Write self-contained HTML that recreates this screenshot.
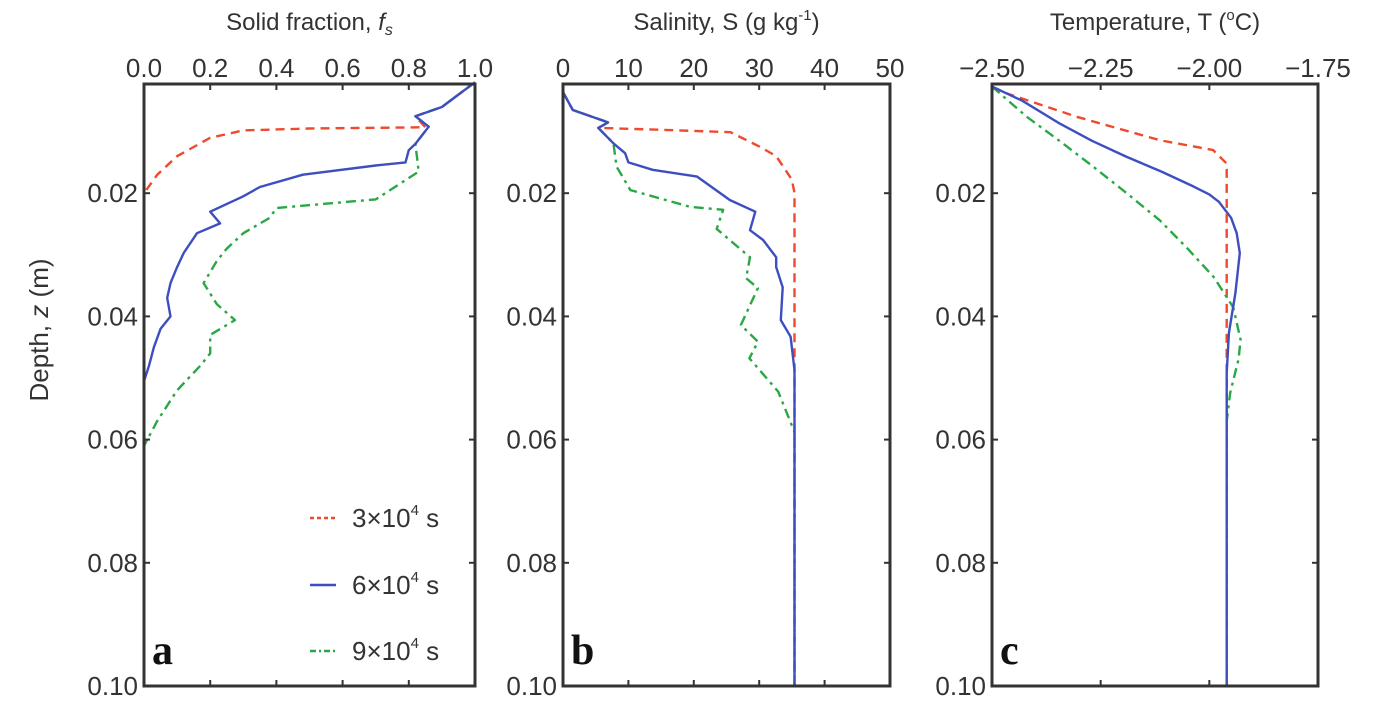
<!DOCTYPE html>
<html><head><meta charset="utf-8"><style>
body{margin:0;background:#fff;}
svg text{font-family:"Liberation Sans","DejaVu Sans",sans-serif;fill:#333;}
</style></head><body>
<svg id="chart" width="1400" height="721" viewBox="0 0 1400 721" xmlns="http://www.w3.org/2000/svg"></svg>
<script>
// Depth tick values
const depthTicks=[0.02,0.04,0.06,0.08,0.10];
const depthTickLabels=["0.02","0.04","0.06","0.08","0.10"];
// Panel a: solid fraction
const fsTicks=[0,0.2,0.4,0.6,0.8,1.0];
const fsTickLabels=["0.0","0.2","0.4","0.6","0.8","1.0"];
const fsRedDepth=[0.002,0.004,0.006,0.0075,0.0093,0.0095,0.0098,0.011,0.014,0.017,0.020,0.1];
const fsRedVal=[1.0,0.95,0.9,0.82,0.85,0.5,0.3,0.2,0.1,0.04,0,0];
const fsBlueDepth=[0.002,0.004,0.006,0.0075,0.0092,0.012,0.013,0.015,0.0155,0.017,0.019,0.0205,0.023,0.0249,0.0265,0.0297,0.032,0.0346,0.037,0.040,0.042,0.045,0.048,0.0505,0.1];
const fsBlueVal=[1.0,0.95,0.9,0.82,0.86,0.82,0.8,0.79,0.7,0.48,0.35,0.3,0.2,0.23,0.16,0.12,0.1,0.08,0.07,0.08,0.05,0.03,0.015,0,0];
const fsGreenDepth=[0.002,0.004,0.006,0.0075,0.0092,0.012,0.0165,0.021,0.0224,0.024,0.0265,0.029,0.031,0.0346,0.038,0.0406,0.043,0.046,0.048,0.052,0.057,0.061,0.1];
const fsGreenVal=[1.0,0.95,0.9,0.82,0.86,0.82,0.83,0.7,0.4,0.38,0.3,0.25,0.22,0.18,0.22,0.275,0.2,0.2,0.17,0.1,0.04,0,0];
// Panel b: salinity
const sTicks=[0,10,20,30,40,50];
const sTickLabels=["0","10","20","30","40","50"];
const sRedDepth=[0.0036,0.0065,0.0085,0.0094,0.0097,0.0101,0.0124,0.014,0.0178,0.020,0.1];
const sRedVal=[0,1.5,6.9,5.4,15,25.6,30,32.6,35,35.4,35.4];
const sBlueDepth=[0.0036,0.0065,0.0085,0.0094,0.0119,0.0135,0.015,0.0162,0.0173,0.0211,0.023,0.026,0.0276,0.0304,0.032,0.0353,0.0406,0.0433,0.0487,0.1];
const sBlueVal=[0,1.5,6.9,5.4,7.7,9.5,10,13.7,20.5,25.5,29.4,28.6,30.6,32.6,32.6,33.6,33.3,34.8,35.4,35.4];
const sGreenDepth=[0.0036,0.0065,0.0085,0.0094,0.0119,0.0157,0.0195,0.0222,0.0227,0.0258,0.0304,0.0338,0.0354,0.0414,0.0441,0.0468,0.0522,0.0588,0.1];
const sGreenVal=[0,1.5,6.9,5.4,7.7,8.2,10.3,19.4,24.5,23.5,28.6,28,29.8,27.2,29.8,28.5,32.9,35.4,35.4];
// Panel c: temperature
const tTicks=[-2.5,-2.25,-2.0,-1.75];
const tTickLabels=["\u22122.50","\u22122.25","\u22122.00","\u22121.75"];
const tRedDepth=[0.0027,0.0038,0.0076,0.0114,0.013,0.0152,0.047,0.1];
const tRedVal=[-2.5,-2.466,-2.305,-2.114,-1.991,-1.96,-1.96,-1.96];
const tBlueDepth=[0.0027,0.005,0.0087,0.0115,0.0141,0.0165,0.0189,0.0202,0.0214,0.024,0.0265,0.0297,0.0362,0.0427,0.0492,0.1];
const tBlueVal=[-2.5,-2.43,-2.344,-2.27,-2.19,-2.11,-2.037,-2.0,-1.978,-1.95,-1.937,-1.93,-1.94,-1.955,-1.96,-1.96];
const tGreenDepth=[0.0027,0.0076,0.0115,0.0157,0.02,0.0244,0.029,0.0336,0.0385,0.0438,0.047,0.0524,0.057,0.1];
const tGreenVal=[-2.5,-2.42,-2.345,-2.267,-2.19,-2.114,-2.05,-1.99,-1.945,-1.928,-1.933,-1.952,-1.96,-1.96];

const NS="http://www.w3.org/2000/svg";
const svg=document.getElementById('chart');
function mk(tag,attrs,parent){const e=document.createElementNS(NS,tag);for(const k in attrs)e.setAttribute(k,attrs[k]);(parent||svg).appendChild(e);return e;}
const TOP=84,BOT=686;
function yScale(d){return 70+6160*d;}
const RED='#ee4a2e',BLUE='#3d4fc0',GREEN='#2aa845';

function panel(key,x0,x1,dmin,dmax,ticks,labels,series,title,letter){
  const xs=v=>x0+(v-dmin)/(dmax-dmin)*(x1-x0);
  const g=mk('g',{});
  
  
  series.forEach(s=>{
    const pts=s.d.map((d,i)=>xs(s.v[i]).toFixed(1)+','+yScale(d).toFixed(1)).join(' ');
    const p=mk('polyline',{points:pts,fill:'none',stroke:s.c,'stroke-width':2.4,'stroke-linejoin':'round'},g);
    if(s.dash)p.setAttribute('stroke-dasharray',s.dash);
    
    
  });
  const f=mk('rect',{x:x0,y:TOP,width:x1-x0,height:BOT-TOP,fill:'none',stroke:'#333','stroke-width':3},g);
  
  
  ticks.forEach((t,i)=>{
    const x=xs(t);
    mk('line',{x1:x,x2:x,y1:TOP,y2:TOP+6,stroke:'#333','stroke-width':2},g);
    mk('line',{x1:x,x2:x,y1:BOT,y2:BOT-6,stroke:'#333','stroke-width':2},g);
    const tx=mk('text',{x:x,y:77,'text-anchor':'middle','font-size':26},g);
    tx.textContent=labels[i];
    
    
  });
  depthTicks.forEach((d,i)=>{
    const y=yScale(d);
    mk('line',{x1:x0,x2:x0+6,y1:y,y2:y,stroke:'#333','stroke-width':2},g);
    mk('line',{x1:x1,x2:x1-6,y1:y,y2:y,stroke:'#333','stroke-width':2},g);
    const tx=mk('text',{x:x0-6,y:y+9,'text-anchor':'end','font-size':26},g);
    tx.textContent=depthTickLabels[i];
    
    
  });
  const tt=mk('text',{x:(x0+x1)/2,y:30,'text-anchor':'middle','font-size':24},g);
  tt.innerHTML=title;
  
  
  const lt=mk('text',{x:x0+8,y:664,'font-size':42,'font-weight':'bold'},g);
  lt.textContent=letter;
  lt.style.fontFamily='"Liberation Serif",serif';
  lt.style.fill='#111';
  
  
}
panel('a',144,475,0,1,fsTicks,fsTickLabels,[
 {n:'3e4',d:fsRedDepth,v:fsRedVal,c:RED,dash:'9,6'},
 {n:'9e4',d:fsGreenDepth,v:fsGreenVal,c:GREEN,dash:'10,5,3,5'},
 {n:'6e4',d:fsBlueDepth,v:fsBlueVal,c:BLUE}],
 'Solid fraction, <tspan font-style="italic">f</tspan><tspan font-style="italic" font-size="16" dy="5">s</tspan>','a');
panel('b',563,890,0,50,sTicks,sTickLabels,[
 {n:'3e4',d:sRedDepth,v:sRedVal,c:RED,dash:'9,6'},
 {n:'9e4',d:sGreenDepth,v:sGreenVal,c:GREEN,dash:'10,5,3,5'},
 {n:'6e4',d:sBlueDepth,v:sBlueVal,c:BLUE}],
 'Salinity, S (g kg<tspan font-size="15" dy="-10">-1</tspan><tspan dy="10">)</tspan>','b');
panel('c',992,1318,-2.5,-1.75,tTicks,tTickLabels,[
 {n:'3e4',d:tRedDepth,v:tRedVal,c:RED,dash:'9,6'},
 {n:'9e4',d:tGreenDepth,v:tGreenVal,c:GREEN,dash:'10,5,3,5'},
 {n:'6e4',d:tBlueDepth,v:tBlueVal,c:BLUE}],
 'Temperature, T (<tspan font-size="15" dy="-10">o</tspan><tspan dy="10">C)</tspan>','c');

const yt=mk('text',{x:0,y:0,'text-anchor':'middle','font-size':26,transform:'translate(48,330) rotate(-90)'});
yt.innerHTML='Depth, <tspan font-style="italic">z</tspan> (m)';



const legLabels=['3\u00d710','6\u00d710','9\u00d710'];
const legColors=[RED,BLUE,GREEN];
const legDash=['4,3','','6,3,2,3'];
const legY=[518,585,651];
legLabels.forEach((l,i)=>{
  const g=mk('g',{});
  
  
  const ln=mk('line',{x1:310,x2:336,y1:legY[i],y2:legY[i],stroke:legColors[i],'stroke-width':2.4},g);
  if(legDash[i])ln.setAttribute('stroke-dasharray',legDash[i]);
  const t=mk('text',{x:352,y:legY[i]+9,'font-size':26},g);
  t.innerHTML=l+'<tspan font-size="15" dy="-12">4</tspan><tspan dy="12"> s</tspan>';
});
</script>
</body></html>
